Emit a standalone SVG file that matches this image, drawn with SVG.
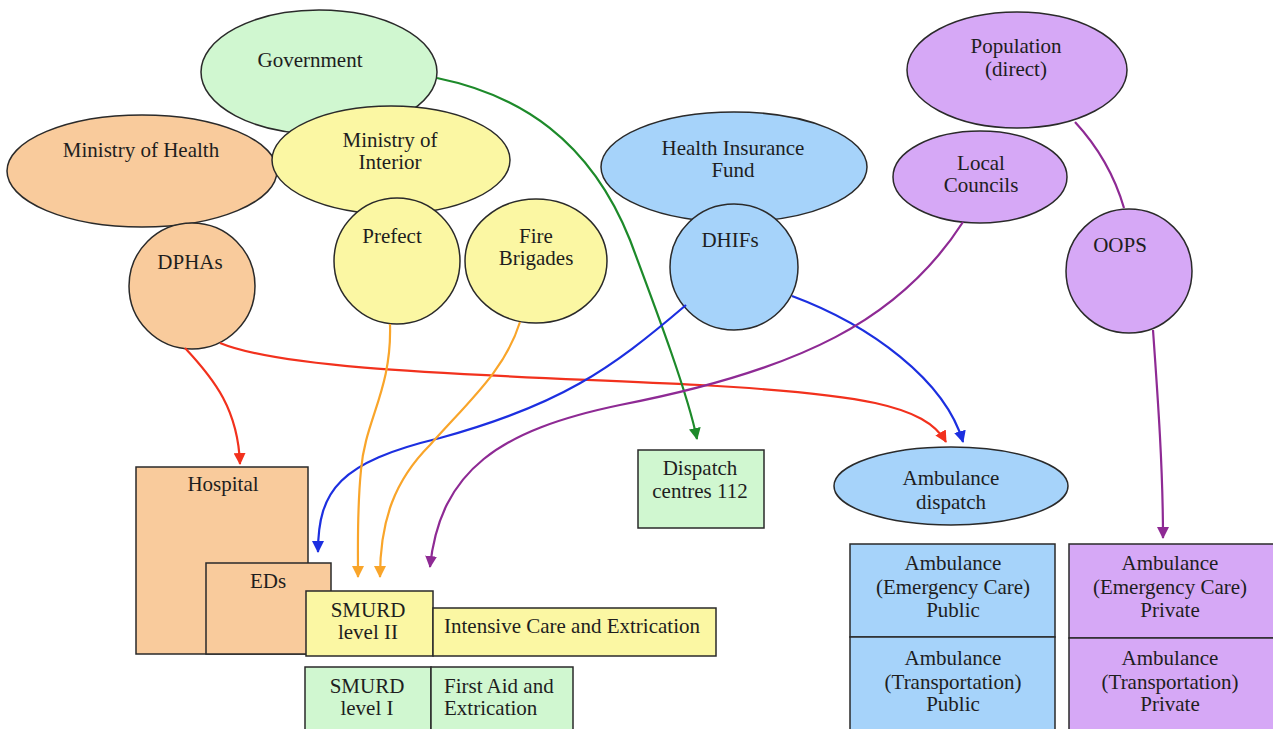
<svg xmlns="http://www.w3.org/2000/svg" width="1273" height="729" viewBox="0 0 1273 729" font-family="'Liberation Serif', 'DejaVu Serif', serif">
<defs>
<style>
.n{stroke:#2a2a2a;stroke-width:1.5}
.g{fill:#d0f7d0}.p{fill:#f9cb9c}.y{fill:#fbf7a3}.b{fill:#a6d3fa}.v{fill:#d6a8f6}
text{font-family:'Liberation Serif','DejaVu Serif',serif;font-size:21px;fill:#1e1e1e;text-anchor:middle}
.l{text-anchor:start}
.c{fill:none;stroke-width:2.2}
</style>
<marker id="mr" viewBox="0 0 12 12" refX="11" refY="6" markerWidth="12" markerHeight="12" markerUnits="userSpaceOnUse" orient="auto"><path d="M0,0 L12,6 L0,12 Z" fill="#f2311d"/></marker>
<marker id="mb" viewBox="0 0 12 12" refX="11" refY="6" markerWidth="12" markerHeight="12" markerUnits="userSpaceOnUse" orient="auto"><path d="M0,0 L12,6 L0,12 Z" fill="#1c2fe0"/></marker>
<marker id="mg" viewBox="0 0 12 12" refX="11" refY="6" markerWidth="12" markerHeight="12" markerUnits="userSpaceOnUse" orient="auto"><path d="M0,0 L12,6 L0,12 Z" fill="#1d8a2a"/></marker>
<marker id="mo" viewBox="0 0 12 12" refX="11" refY="6" markerWidth="12" markerHeight="12" markerUnits="userSpaceOnUse" orient="auto"><path d="M0,0 L12,6 L0,12 Z" fill="#f9a52a"/></marker>
<marker id="mv" viewBox="0 0 12 12" refX="11" refY="6" markerWidth="12" markerHeight="12" markerUnits="userSpaceOnUse" orient="auto"><path d="M0,0 L12,6 L0,12 Z" fill="#8e2a94"/></marker>
</defs>
<rect width="1273" height="729" fill="#fff"/>

<g id="government"><ellipse class="n g" cx="319" cy="72" rx="118" ry="62"/><text x="310" y="67">Government</text></g>
<g id="ministry-health"><ellipse class="n p" cx="142" cy="171" rx="135" ry="56"/><text x="141" y="157">Ministry of Health</text></g>
<g id="ministry-interior"><ellipse class="n y" cx="391" cy="160" rx="119" ry="54"/><text x="390" y="147">Ministry of</text><text x="390" y="169">Interior</text></g>
<g id="dphas"><circle class="n p" cx="192" cy="286" r="63"/><text x="190" y="269">DPHAs</text></g>
<g id="prefect"><circle class="n y" cx="397" cy="261" r="63"/><text x="392" y="243">Prefect</text></g>
<g id="fire-brigades"><ellipse class="n y" cx="536" cy="261" rx="71" ry="62"/><text x="536" y="243">Fire</text><text x="536" y="265">Brigades</text></g>
<g id="health-insurance-fund"><ellipse class="n b" cx="734" cy="167" rx="133" ry="55"/><text x="733" y="155">Health Insurance</text><text x="733" y="177">Fund</text></g>
<g id="dhifs"><ellipse class="n b" cx="734" cy="267" rx="64" ry="63"/><text x="730" y="247">DHIFs</text></g>
<g id="population"><ellipse class="n v" cx="1017" cy="70" rx="110" ry="58"/><text x="1016" y="53">Population</text><text x="1016" y="76">(direct)</text></g>
<g id="local-councils"><ellipse class="n v" cx="980" cy="177" rx="87" ry="46"/><text x="981" y="170">Local</text><text x="981" y="192">Councils</text></g>
<g id="oops"><ellipse class="n v" cx="1129" cy="271" rx="63" ry="62"/><text x="1120" y="252">OOPS</text></g>

<g id="ambulance-dispatch"><ellipse class="n b" cx="951" cy="486" rx="117" ry="39"/><text x="951" y="485">Ambulance</text><text x="951" y="509">dispatch</text></g>
<g id="dispatch-centres"><rect class="n g" x="638" y="450" width="126" height="78"/><text x="700" y="475">Dispatch</text><text x="700" y="498">centres 112</text></g>

<g id="hospital"><rect class="n p" x="136" y="467" width="172" height="187"/><text x="223" y="491">Hospital</text></g>
<g id="eds"><rect class="n p" x="206" y="563" width="125" height="91"/><text x="268" y="588">EDs</text></g>
<g id="smurd-2"><rect class="n y" x="306" y="591" width="127" height="65"/><text x="368" y="617">SMURD</text><text x="368" y="639">level II</text></g>
<g id="intensive-care"><rect class="n y" x="433" y="608" width="283" height="48"/><text x="572" y="633">Intensive Care and Extrication</text></g>
<g id="smurd-1"><rect class="n g" x="305" y="667" width="126" height="80"/><text x="367" y="693">SMURD</text><text x="367" y="715">level I</text></g>
<g id="first-aid"><rect class="n g" x="431" y="667" width="142" height="80"/><text class="l" x="444" y="693">First Aid and</text><text class="l" x="444" y="715">Extrication</text></g>

<g id="amb-public"><rect class="n b" x="850" y="544" width="205" height="93"/><rect class="n b" x="850" y="637" width="205" height="110"/><text x="953" y="570">Ambulance</text><text x="953" y="594">(Emergency Care)</text><text x="953" y="617">Public</text><text x="953" y="665">Ambulance</text><text x="953" y="689">(Transportation)</text><text x="953" y="711">Public</text></g>
<g id="amb-private"><rect class="n v" x="1069" y="544" width="210" height="94"/><rect class="n v" x="1069" y="638" width="210" height="110"/><text x="1170" y="570">Ambulance</text><text x="1170" y="594">(Emergency Care)</text><text x="1170" y="617">Private</text><text x="1170" y="665">Ambulance</text><text x="1170" y="689">(Transportation)</text><text x="1170" y="711">Private</text></g>

<g id="connectors">
<path class="c" stroke="#f2311d" d="M185 348 C215 380 238 410 240 464" marker-end="url(#mr)"/>
<path class="c" stroke="#f2311d" d="M220 343 C290 372 500 375 700 385 C860 394 925 405 946 442" marker-end="url(#mr)"/>
<path class="c" stroke="#1d8a2a" d="M437 78 C520 95 590 140 630 240 C660 320 688 395 697 439" marker-end="url(#mg)"/>
<path class="c" stroke="#1c2fe0" d="M686 305 C610 370 560 405 440 438 C340 462 318 490 318 552" marker-end="url(#mb)"/>
<path class="c" stroke="#1c2fe0" d="M792 296 C870 325 945 380 963 442" marker-end="url(#mb)"/>
<path class="c" stroke="#f9a52a" d="M390 324 C392 390 365 420 361 470 C357 510 358 540 358 577" marker-end="url(#mo)"/>
<path class="c" stroke="#f9a52a" d="M520 322 C505 370 470 400 430 445 C395 480 380 520 380 577" marker-end="url(#mo)"/>
<path class="c" stroke="#8e2a94" d="M963 222 C900 320 800 370 620 405 C500 430 440 470 430 567" marker-end="url(#mv)"/>
<path class="c" stroke="#8e2a94" d="M1075 122 Q1110 160 1124 208"/>
<path class="c" stroke="#8e2a94" d="M1153 330 C1158 400 1163 470 1163 538" marker-end="url(#mv)"/>
</g>
</svg>
